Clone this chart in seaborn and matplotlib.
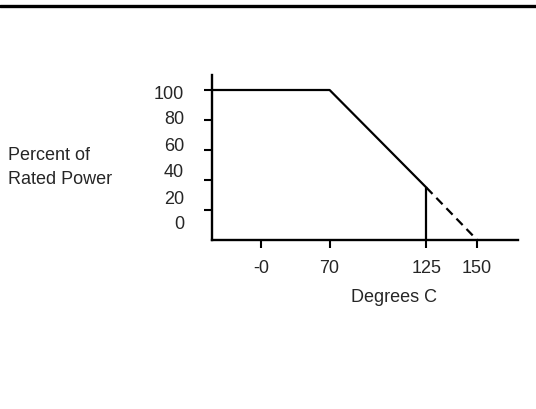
import numpy as np
import pandas as pd
import matplotlib
matplotlib.use('Agg')
import matplotlib.pyplot as plt
from matplotlib.lines import Line2D
import seaborn as sns

# derating curve
temp = [-50, 70, 125]
power = [100, 100, 35]
# extrapolated part (dashed) down to zero power
temp_ext = [125, 150]
power_ext = [35, 0]

x_ticks = [0, 70, 125, 150]
x_labels = ['-0', '70', '125', '150']
y_ticks = [100, 80, 60, 40, 20]
y_labels = ['100', '80', '60', '40', '20', '0']
y_label_pos = [99, 82, 64, 47, 29, 12]

# the drawing is not to scale along x, so use a piecewise scale
knots = [-50, 0, 70, 125, 150, 170]
knot_pos = [211, 260, 329, 426, 477, 518]

def fwd(v):
    return np.interp(v, knots, knot_pos)

def inv(p):
    return np.interp(p, knot_pos, knots)

sns.set_style('ticks')
plt.rcParams['font.family'] = ['Liberation Sans', 'DejaVu Sans']

fig = plt.figure(figsize=(5.36, 4.10), dpi=100)
ax = fig.add_axes([212/536, 1-241/410, 306/536, 165/410])
ax.set_xscale('function', functions=(fwd, inv))

df = pd.DataFrame({'temp': temp, 'power': power})
df_ext = pd.DataFrame({'temp': temp_ext, 'power': power_ext})
sns.lineplot(data=df, x='temp', y='power', color='black', lw=1.6,
             sort=False, estimator=None, ax=ax)
sns.lineplot(data=df_ext, x='temp', y='power', color='black', lw=1.6,
             sort=False, estimator=None, ax=ax, dashes=False)
ax.lines[-1].set_dashes((4, 2.5))
ax.plot([temp[-1], temp[-1]], [0, power[-1]], color='black', lw=1.6)

ax.set_xlim(knots[0], knots[-1])
ax.set_ylim(0, 110)
sns.despine(ax=ax)
for s in ['left', 'bottom']:
    ax.spines[s].set_linewidth(1.7)
    ax.spines[s].set_color('black')

ax.set_xticks(x_ticks, x_labels)
ax.set_yticks(y_ticks, [])
ax.set_yticks(y_label_pos, y_labels, minor=True)
ax.tick_params(axis='x', direction='out', length=6, width=1.5, pad=7.5,
               labelsize=13, color='black')
ax.tick_params(axis='y', which='major', direction='out', length=6, width=1.5,
               color='black')
ax.tick_params(axis='y', which='minor', length=0, pad=20, labelsize=13)

ax.set_xlabel('Degrees C', fontsize=13)
ax.xaxis.set_label_coords(0.595, -0.29)
ax.set_ylabel('Percent of\nRated Power', fontsize=13, rotation=0,
              ha='left', va='center', multialignment='left', linespacing=1.5)
ax.yaxis.set_label_coords(-0.667, 0.445)

# rule across the top of the page
fig.add_artist(Line2D([0, 1], [1-6.5/410, 1-6.5/410], transform=fig.transFigure,
                      color='black', lw=2.4))

fig.savefig('out.png', dpi=100)
